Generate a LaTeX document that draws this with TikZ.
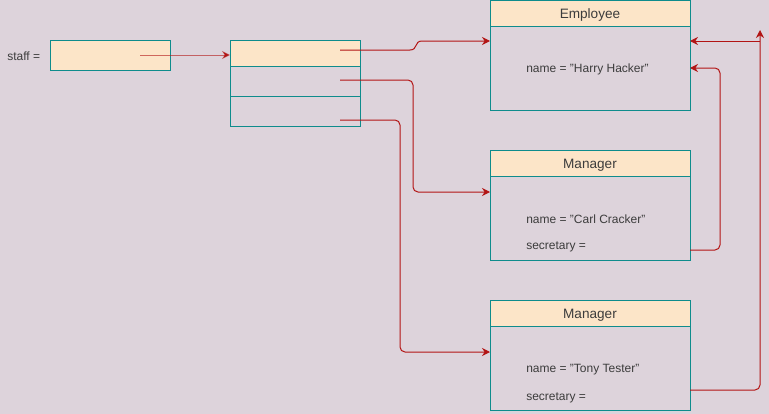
\documentclass[tikz,border=0pt]{standalone}
\usepackage{fontspec}
\setmainfont{Liberation Sans}
\usetikzlibrary{arrows.meta}
\definecolor{bg}{RGB}{221,211,219}
\definecolor{boxfill}{RGB}{252,229,200}
\definecolor{boxline}{RGB}{14,140,140}
\definecolor{arr}{RGB}{178,20,20}
\definecolor{txt}{RGB}{60,60,60}
\tikzset{
  px/.style={x=0.75pt,y=-0.75pt},
  cell/.style={draw=boxline,line width=0.75pt,inner sep=0pt,minimum width=#1*0.75pt},
  obj/.style={draw=boxline,line width=0.75pt,inner sep=0pt,minimum width=150pt,minimum height=82.5pt},
  head/.style={draw=boxline,fill=boxfill,line width=0.75pt,inner sep=0pt,minimum width=150pt,minimum height=19.5pt},
  htxt/.style={inner sep=0pt,anchor=base,font=\fontsize{10.2}{11}\selectfont,text=txt},
  lbl/.style={inner sep=0pt,anchor=west,font=\fontsize{9}{10}\selectfont,text=txt},
  tip/.style={-{Stealth[length=6pt,width=6pt]}},
  link/.style={draw=arr,line width=0.75pt,rounded corners=3.75pt,tip},
}
\begin{document}
\begin{tikzpicture}[px]
\useasboundingbox[fill=bg] (0,0) rectangle (769,414);
% staff
\node[lbl] (stafflbl) at (7,56.5) {staff =};
\node[cell=120,fill=boxfill,minimum height=22.5pt] (staff) at (110,55) {};
% array
\node[cell=130,fill=boxfill,minimum height=19.5pt] (a1) at (295,53) {};
\node[cell=130,minimum height=22.5pt] (a2) at (295,81) {};
\node[cell=130,minimum height=22.5pt] (a3) at (295,111) {};
% objects
\node[obj] (emp) at (590,55) {};
\node[head,anchor=north] (emph) at ([yshift=-0.5pt]emp.north) {};
\node[htxt] (empt) at (590,18.5) {Employee};
\node[lbl] (empname) at (526,69.5) {name = "Harry Hacker"};
\node[obj] (m1) at (590,205) {};
\node[head,anchor=north] (m1h) at ([yshift=-0.5pt]m1.north) {};
\node[htxt] (m1t) at (590,168.5) {Manager};
\node[lbl] (m1name) at (526,219.5) {name = "Carl Cracker"};
\node[lbl] (m1sec) at (526,246.5) {secretary =};
\node[obj] (m2) at (590,355) {};
\node[head,anchor=north] (m2h) at ([yshift=-0.5pt]m2.north) {};
\node[htxt] (m2t) at (590,318.5) {Manager};
\node[lbl] (m2name) at (526,369.5) {name = "Tony Tester"};
\node[lbl] (m2sec) at (526,397.5) {secretary =};
% coordinates
\coordinate (s0) at (140,55);
\coordinate (s1) at (230,55);
\coordinate (p1) at (340,50);
\coordinate (p2) at (340,80);
\coordinate (p3) at (340,120);
\coordinate (e1) at (490,41);
\coordinate (e2) at (490,192);
\coordinate (e3) at (490,352);
\coordinate (sec1) at (690,250);
\coordinate (t1) at (690,68);
\coordinate (sec2) at (690,390);
\coordinate (top) at (760,30);
\coordinate (j) at (760,41);
\coordinate (t2) at (690,41);
% connectors
\draw[link,draw opacity=0.6] (s0) -- (s1);
\draw[draw=arr,line width=0.75pt,tip] (p1) -- (410,50) .. controls (418,50) and (414,41) .. (422,41) -- (e1);
\draw[link] (p2) -| (413,140) |- (e2);
\draw[link] (p3) -| (400,250) |- (e3);
\draw[link] (sec1) -| (720,150) |- (t1);
\draw[link] (sec2) -| (top);
\draw[link] (j) -- (t2);
\end{tikzpicture}
\end{document}
